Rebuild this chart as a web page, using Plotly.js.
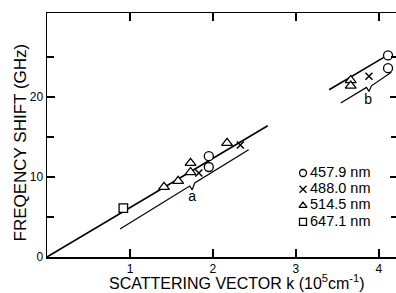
<!DOCTYPE html>
<html><head><meta charset="utf-8">
<script src="https://cdn.plot.ly/plotly-3.0.1.min.js"></script>
<style>html,body{margin:0;padding:0;overflow:hidden;background:#fff}</style>
</head><body><div id="chart" style="width:400px;height:293px"></div>
<script>
// Data (k in 1e5 cm^-1, shift in GHz)
const k457 = [1.95, 1.95, 4.11, 4.11];
const f457 = [12.6, 11.25, 25.2, 23.6];
const k488 = [1.83, 2.33, 3.88];
const f488 = [10.5, 14.0, 22.6];
const k514 = [1.41, 1.58, 1.73, 1.73, 2.17, 3.66, 3.66];
const f514 = [8.75, 9.5, 11.75, 10.6, 14.25, 22.1, 21.4];
const k647 = [0.92];
const f647 = [6.1];
// fitted line (two pieces)
const fitK = [0, 2.66, null, 3.40, 4.10];
const fitF = [0, 16.4, null, 20.9, 25.2];
// bracket lines a and b
const braceAK = [0.88, 1.72, 1.75, 1.78, 2.43];
const braceAF = [3.5, 8.87, 8.4, 9.25, 13.4];
const braceBK = [3.54, 3.85, 3.88, 3.91, 4.15];
const braceBF = [19.25, 21.2, 20.7, 21.4, 23.1];
const legendLabels = ['457.9 nm', '488.0 nm', '514.5 nm', '647.1 nm'];
const legendSymbols = ['circle-open', 'x-thin', 'triangle-up-open', 'square-open'];
const braceLabels = ['a', 'b'];
const braceLabelK = [1.75, 3.87];
const braceLabelF = [7.4, 19.6];
const xTitle = 'SCATTERING VECTOR k (10<sup>5</sup>cm<sup>-1</sup>)';
const yTitle = 'FREQENCY SHIFT (GHz)';

const FONT = 'Liberation Sans, Arial, sans-serif';

const traces = [
  {x: fitK, y: fitF, mode: 'lines', line: {color: '#000', width: 1.6}},
  {x: braceAK, y: braceAF, mode: 'lines', line: {color: '#000', width: 1.2}},
  {x: braceBK, y: braceBF, mode: 'lines', line: {color: '#000', width: 1.2}},
  {x: k457, y: f457, mode: 'markers', marker: {symbol: 'circle', size: 9, color: '#fff', line: {color: '#000', width: 1.3}}},
  {x: k488, y: f488, mode: 'markers', marker: {symbol: 'x-thin', size: 7, color: '#000', line: {color: '#000', width: 1.5}}},
  {x: k514, y: f514, mode: 'markers', marker: {symbol: 'triangle-up', size: 9.5, color: '#fff', line: {color: '#000', width: 1.3}}},
  {x: k647, y: f647, mode: 'markers', marker: {symbol: 'square', size: 8.5, color: '#fff', line: {color: '#000', width: 1.3}}},
  {x: braceLabelK, y: braceLabelF, mode: 'text', text: braceLabels, textfont: {family: FONT, size: 14, color: '#000'}},
];

// hand-made legend in an overlay axis measured in pixels
const LEG_MARK_X = 303, LEG_TEXT_X = 310, LEG_TOP = 173, LEG_STEP = 16.3;
const legRows = legendLabels.map((_, i) => LEG_TOP + i * LEG_STEP);
traces.push({
  x: legendLabels.map(() => LEG_MARK_X), y: legRows, xaxis: 'x2', yaxis: 'y2', mode: 'markers',
  marker: {symbol: legendSymbols, size: 7, color: '#000', line: {color: '#000', width: 1.3}}
});
traces.push({
  x: legendLabels.map(() => LEG_TEXT_X), y: legRows, xaxis: 'x2', yaxis: 'y2', mode: 'text',
  text: legendLabels, textposition: 'middle right',
  textfont: {family: FONT, size: 14.5, color: '#000'}
});

const W = 400, H = 293, L = 47, R = 2, T = 13, B = 36;
const pw = W - L - R, ph = H - T - B;
const px = (p) => (p - L) / pw, py = (p) => (H - B - p) / ph;

const axisCommon = {
  showgrid: false, zeroline: false,
  showline: true, linecolor: '#000', linewidth: 1.5, mirror: 'ticks',
  ticks: 'inside', ticklen: 8, tickwidth: 1.2, tickcolor: '#000',
  tickfont: {family: FONT, size: 12}
};

const layout = {
  width: W, height: H,
  margin: {l: L, r: R, t: T, b: B, pad: 0},
  paper_bgcolor: '#fff', plot_bgcolor: '#fff',
  showlegend: false,
  font: {family: FONT, color: '#000'},
  xaxis: Object.assign({}, axisCommon, {
    range: [0, 4.23], tickvals: [1, 2, 3, 4], ticktext: ['1', '2', '3', '4']
  }),
  yaxis: Object.assign({}, axisCommon, {
    range: [0, 30.5], tickvals: [0, 10, 20], ticktext: ['0', '10', '20'],
    minor: {tickvals: [5, 15, 25], ticks: 'inside', ticklen: 7, tickwidth: 1.2, tickcolor: '#000', showgrid: false}
  }),
  xaxis2: {domain: [px(290), px(390)], range: [290, 390], visible: false, anchor: 'y2', fixedrange: true},
  yaxis2: {domain: [py(240), py(160)], range: [240, 160], visible: false, anchor: 'x2', fixedrange: true},
  annotations: [
    {text: xTitle, xref: 'paper', yref: 'paper', x: (237.5 - L) / pw, y: py(282),
     xanchor: 'center', yanchor: 'middle', showarrow: false, font: {family: FONT, size: 16}},
    {text: yTitle, xref: 'paper', yref: 'paper', x: px(20), y: py(142.5), textangle: -90,
     xanchor: 'center', yanchor: 'middle', showarrow: false, font: {family: FONT, size: 17}}
  ]
};

Plotly.newPlot('chart', traces, layout, {staticPlot: true, displayModeBar: false});
</script></body></html>
